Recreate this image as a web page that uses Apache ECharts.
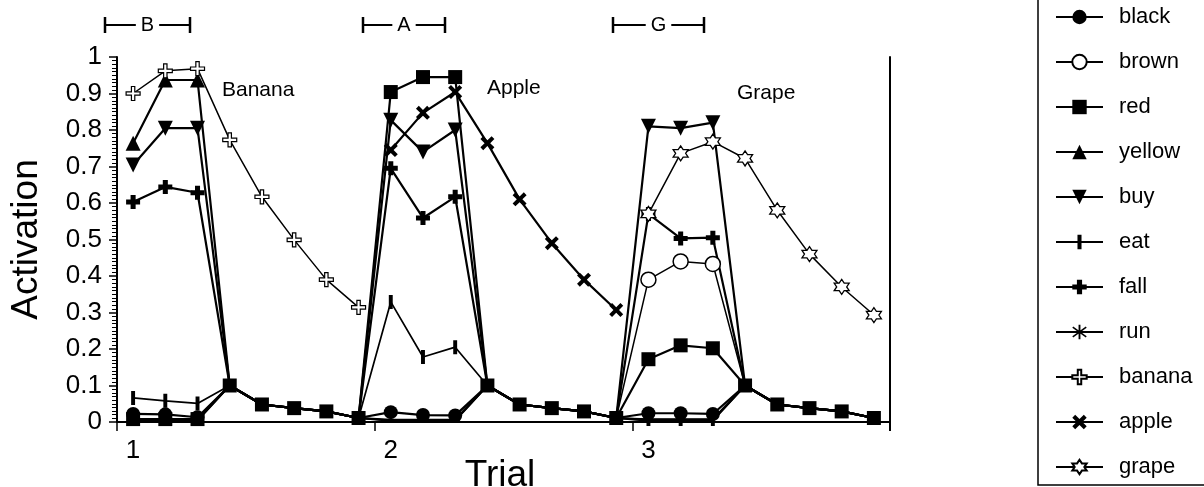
<!DOCTYPE html>
<html>
<head>
<meta charset="utf-8">
<script src="https://cdn.jsdelivr.net/npm/echarts@6/dist/echarts.min.js"></script>
<style>html,body{margin:0;padding:0;background:#fff;}#c{width:1204px;height:487px;}</style>
</head>
<body>
<div id="c"></div>
<script>
// ---- data ----
const steps = ['1','2','3','4','5','6','7','8','9','10','11','12','13','14','15','16','17','18','19','20','21','22','23','24'];
const trialLabels = ['1', '2', '3'];
const yTickLabels = ['0','0.1','0.2','0.3','0.4','0.5','0.6','0.7','0.8','0.9','1'];
const seriesNames = ['black','brown','red','yellow','buy','eat','fall','run','banana','apple','grape'];

const black  = [0.022,0.021,0.013, 0.1,0.048,0.038,0.029,0.011, 0.027,0.019,0.018, 0.1,0.048,0.038,0.029,0.011, 0.024,0.024,0.022, 0.1,0.048,0.038,0.029,0.011];
const brown  = [0.004,0.004,0.004, 0.1,0.048,0.038,0.029,0.011, 0.004,0.004,0.004, 0.1,0.048,0.038,0.029,0.011, 0.39,0.44,0.433, 0.1,0.048,0.038,0.029,0.011];
const red    = [0.008,0.008,0.008, 0.1,0.048,0.038,0.029,0.011, 0.904,0.945,0.945, 0.1,0.048,0.038,0.029,0.011, 0.172,0.21,0.202, 0.1,0.048,0.038,0.029,0.011];
const yellow = [0.764,0.937,0.937, 0.1,0.048,0.038,0.029,0.011, 0.006,0.006,0.006, 0.1,0.048,0.038,0.029,0.011, 0.006,0.006,0.006, 0.1,0.048,0.038,0.029,0.011];
const buy    = [0.704,0.805,0.805, 0.1,0.048,0.038,0.029,0.011, 0.827,0.74,0.80, 0.1,0.048,0.038,0.029,0.011, 0.81,0.805,0.82, 0.1,0.048,0.038,0.029,0.011];
const eat    = [0.066,0.058,0.051, 0.1,0.048,0.038,0.029,0.011, 0.329,0.178,0.205, 0.1,0.048,0.038,0.029,0.011, 0.008,0.008,0.008, 0.1,0.048,0.038,0.029,0.011];
const fall   = [0.603,0.644,0.628, 0.1,0.048,0.038,0.029,0.011, 0.695,0.559,0.617, 0.1,0.048,0.038,0.029,0.011, 0.57,0.503,0.505, 0.1,0.048,0.038,0.029,0.011];
const run    = [0.004,0.004,0.004, 0.1,0.048,0.038,0.029,0.011, 0.004,0.004,0.004, 0.1,0.048,0.038,0.029,0.011, 0.004,0.004,0.004, 0.1,0.048,0.038,0.029,0.011];
const banana = [0.90,0.962,0.968,0.773,0.617,0.499,0.39,0.314, null,null,null,null,null,null,null,null, null,null,null,null,null,null,null,null];
const apple  = [null,null,null,null,null,null,null,null, 0.745,0.847,0.904,0.764,0.61,0.49,0.39,0.307, null,null,null,null,null,null,null,null];
const grape  = [null,null,null,null,null,null,null,null, null,null,null,null,null,null,null,null, 0.57,0.736,0.768,0.722,0.58,0.46,0.37,0.293];

const dataByName = {black, brown, red, yellow, buy, eat, fall, run, banana, apple, grape};

// ---- styles ----
const FONT = 'Liberation Sans, Arial, sans-serif';
const P = {
  down: 'path://M0,0L10,0L5,9Z',
  bar: 'path://M3.6,0H6.4V10H3.6Z M0,5H0.01V5.01H0Z M9.99,5H10V5.01H9.99Z',
  plus: 'path://M3.2,0H6.8V3.2H10V6.8H6.8V10H3.2V6.8H0V3.2H3.2Z',
  ast: 'path://M4.4,0H5.6V10H4.4Z M0.4,2.1L1.0,1.2L9.6,7.9L9.0,8.8Z M9.0,1.2L9.6,2.1L1.0,8.8L0.4,7.9Z',
  hplus: 'path://M3.8,0H6.2V3.8H10V6.2H6.2V10H3.8V6.2H0V3.8H3.8Z',
  x: 'path://M0,2L2,0L5,3L8,0L10,2L7,5L10,8L8,10L5,7L2,10L0,8L3,5Z',
  star: 'path://M5,0L6.44,2.5L9.33,2.5L7.89,5L9.33,7.5L6.44,7.5L5,10L3.56,7.5L0.67,7.5L2.11,5L0.67,2.5L3.56,2.5Z'
};
const styleMap = {
  black:  {symbol: 'circle', size: 14, fill: '#000', z: 3},
  brown:  {symbol: 'circle', size: 15, fill: '#fff', bw: 1.5, lw: 1.5, hideLow: true},
  red:    {symbol: 'rect', size: 14, fill: '#000', z: 5},
  yellow: {symbol: 'triangle', size: 15, fill: '#000', hideLow: true},
  buy:    {symbol: P.down, size: 15, fill: '#000'},
  eat:    {symbol: P.bar, size: 14, fill: '#000', lw: 1.7},
  fall:   {symbol: P.plus, size: 14, fill: '#000'},
  run:    {symbol: P.ast, size: 14, fill: '#000', hideLow: true},
  banana: {symbol: P.hplus, size: 14, fill: '#fff', bw: 1.2, fruit: true, lw: 1.5},
  apple:  {symbol: P.x, size: 14, fill: '#000', fruit: true},
  grape:  {symbol: P.star, size: 15, fill: '#fff', bw: 1.3, fruit: true, lw: 1.5}
};

const series = seriesNames.map(name => {
  const s = styleMap[name];
  const always = s.fruit || name === 'red';
  return {
    name: name,
    type: 'line',
    data: dataByName[name],
    connectNulls: false,
    symbol: s.symbol,
    symbolSize: always ? s.size : function (v, p) {
      if (!p) return s.size;
      if (p.dataIndex % 8 >= 3) return 0;
      if (s.hideLow && v < 0.01) return 0;
      return s.size;
    },
    showAllSymbol: true,
    z: s.z || 2,
    lineStyle: {color: '#000', width: s.lw || 2.2},
    itemStyle: {color: s.fill, borderColor: '#000', borderWidth: s.bw || 0},
    emphasis: {disabled: true},
    animation: false
  };
});

const chart = echarts.init(document.getElementById('c'));
chart.setOption({
  animation: false,
  backgroundColor: '#fff',
  textStyle: {fontFamily: FONT},
  grid: {left: 105, right: 314, top: 57, bottom: 65, containLabel: false},
  legend: {
    orient: 'vertical',
    left: 1055,
    top: 6,
    padding: 0,
    itemWidth: 47,
    itemHeight: 18,
    itemGap: 23,
    data: seriesNames,
    textStyle: {fontSize: 22, color: '#000', fontFamily: FONT, lineHeight: 22, padding: [0, 0, 0, 11]},
    selectedMode: false
  },
  xAxis: [{
    type: 'category',
    data: steps,
    boundaryGap: true,
    position: 'bottom',
    axisLine: {lineStyle: {color: '#000', width: 2}},
    axisTick: {show: true, inside: false, length: 9, interval: function (i) { return i % 8 === 0; }, lineStyle: {color: '#000', width: 1.5}},
    axisLabel: {
      show: true,
      interval: function (i) { return i % 8 === 0; },
      formatter: function (v, i) { return trialLabels[Math.floor(i / 8)]; },
      color: '#000', fontSize: 26, margin: 16, fontFamily: FONT
    },
    splitLine: {show: false}
  }, {
    type: 'category',
    data: steps,
    position: 'top',
    axisLine: {lineStyle: {color: '#000', width: 2}},
    axisTick: {show: false},
    axisLabel: {show: false}
  }],
  yAxis: [{
    type: 'value',
    min: 0, max: 1, interval: 0.1,
    position: 'left',
    axisLine: {show: true, lineStyle: {color: '#000', width: 2}},
    axisTick: {show: true, inside: false, length: 8, lineStyle: {color: '#000', width: 1.5}},
    minorTick: {show: true, splitNumber: 10, length: 5, lineStyle: {color: '#000', width: 1}},
    splitLine: {show: false},
    axisLabel: {
      color: '#000', fontSize: 26, margin: 15, fontFamily: FONT,
      formatter: function (v) { return yTickLabels[Math.round(v * 10)]; }
    },
    name: 'Activation',
    nameLocation: 'middle',
    nameGap: 72,
    nameRotate: 90,
    nameTextStyle: {fontSize: 37, color: '#000', fontFamily: FONT}
  }, {
    type: 'value',
    min: 0, max: 1, interval: 0.1,
    position: 'right',
    axisLine: {show: true, lineStyle: {color: '#000', width: 2}},
    axisTick: {show: false},
    axisLabel: {show: false},
    splitLine: {show: false}
  }],
  series: series
});

// ---- annotations (decorations) ----
function bracket(x1, x2, y, letter) {
  const cx = (x1 + x2) / 2;
  return [
    {type: 'line', shape: {x1: x1, y1: y, x2: x2, y2: y}, style: {stroke: '#000', lineWidth: 2}},
    {type: 'line', shape: {x1: x1, y1: y - 8, x2: x1, y2: y + 8}, style: {stroke: '#000', lineWidth: 2.5}},
    {type: 'line', shape: {x1: x2, y1: y - 8, x2: x2, y2: y + 8}, style: {stroke: '#000', lineWidth: 2.5}},
    {type: 'text', x: cx, y: y, z: 10, style: {text: letter, fill: '#000', font: '20px ' + FONT, align: 'center', verticalAlign: 'middle', backgroundColor: '#fff', padding: [0, 5]}}
  ];
}
const graphics = []
  .concat(bracket(105, 190, 25, 'B'))
  .concat(bracket(363, 445, 25, 'A'))
  .concat(bracket(613, 704, 25, 'G'))
  .concat([
    {type: 'text', x: 222, y: 90, style: {text: 'Banana', fill: '#000', font: '21px ' + FONT, verticalAlign: 'middle'}},
    {type: 'text', x: 487, y: 88, style: {text: 'Apple', fill: '#000', font: '21px ' + FONT, verticalAlign: 'middle'}},
    {type: 'text', x: 737, y: 93, style: {text: 'Grape', fill: '#000', font: '21px ' + FONT, verticalAlign: 'middle'}},
    {type: 'text', x: 500, y: 457, style: {text: 'Trial', fill: '#000', font: '37px ' + FONT, align: 'center', verticalAlign: 'top'}},
    {type: 'line', shape: {x1: 890, y1: 420, x2: 890, y2: 431}, style: {stroke: '#000', lineWidth: 2}},
    {type: 'rect', shape: {x: 1038, y: -5, width: 220, height: 490}, style: {fill: 'none', stroke: '#000', lineWidth: 1.5}}
  ]);
chart.setOption({graphic: graphics});
</script>
</body>
</html>
